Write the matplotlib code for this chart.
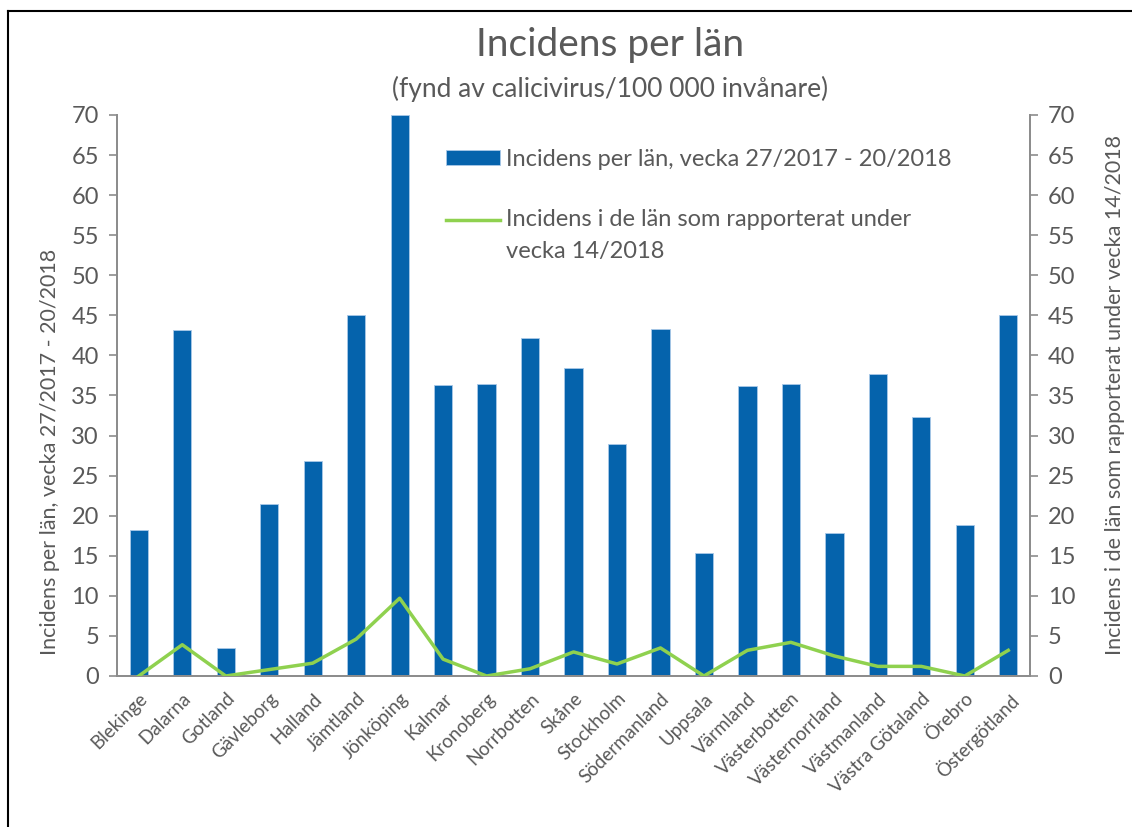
import numpy as np
import matplotlib.pyplot as plt
from matplotlib.lines import Line2D
from matplotlib.legend_handler import HandlerLine2D

plt.rcParams['font.family'] = ['Lato', 'DejaVu Sans']

# Data
lan = ["Blekinge", "Dalarna", "Gotland", "Gävleborg", "Halland", "Jämtland",
       "Jönköping", "Kalmar", "Kronoberg", "Norrbotten", "Skåne", "Stockholm",
       "Södermanland", "Uppsala", "Värmland", "Västerbotten", "Västernorrland",
       "Västmanland", "Västra Götaland", "Örebro", "Östergötland"]
incidens_period = [18.2, 43.2, 3.5, 21.4, 26.8, 45.0, 70.0, 36.3, 36.4, 42.2,
                   38.4, 29.0, 43.3, 15.4, 36.2, 36.4, 17.9, 37.7, 32.3, 18.9, 45.1]
incidens_v14 = [0.0, 3.9, 0.0, 0.8, 1.6, 4.6, 9.7, 2.1, 0.0, 0.9,
                3.0, 1.5, 3.5, 0.0, 3.2, 4.2, 2.5, 1.2, 1.2, 0.0, 3.2]

label_bar = "Incidens per län, vecka 27/2017 - 20/2018"
label_line = "Incidens i de län som rapporterat under\nvecka 14/2018"
ylabel_left = "Incidens per län, vecka 27/2017 - 20/2018"
ylabel_right = "Incidens i de län som rapporterat under vecka 14/2018"

BLUE = '#0563ac'
GREEN = '#8fd14f'
TXT = '#595959'
AX = '#8c8c8c'


class TopLineHandler(HandlerLine2D):
    """line handle lined up with the first row of a two-row label"""
    def create_artists(self, legend, orig_handle, xdescent, ydescent,
                       width, height, fontsize, trans):
        arts = super().create_artists(legend, orig_handle, xdescent, ydescent,
                                      width, height, fontsize, trans)
        for a in arts:
            a.set_ydata(np.asarray(a.get_ydata()) + 0.68 * fontsize)
        return arts


fig = plt.figure(figsize=(11.32, 8.27), dpi=100)
ax = fig.add_axes([0.1034, 0.1826, 0.8065, 0.6784])
ax2 = ax.twinx()

x = np.arange(len(lan))
bars = ax.bar(x, incidens_period, width=0.42, color=BLUE, edgecolor='#a9c8e8',
              linewidth=0.6, label=label_bar, zorder=2)
line, = ax2.plot(x, incidens_v14, color=GREEN, linewidth=2.5, label=label_line,
                 zorder=3)

for a in (ax, ax2):
    a.set_ylim(0, 70)
    a.set_yticks(np.arange(0, 71, 5))
    a.set_xlim(-0.5, len(lan) - 0.5)
    a.spines['top'].set_visible(False)
    for s in ('left', 'right', 'bottom'):
        a.spines[s].set_color(AX)
        a.spines[s].set_linewidth(1.3)
    a.tick_params(axis='y', colors=AX, labelcolor=TXT, labelsize=17,
                  direction='out', length=6, width=1.2, pad=7)

ax.set_xticks(x)
ax.set_xticklabels(lan, rotation=45, ha='right', rotation_mode='anchor',
                   fontsize=13.5, color=TXT)
ax.tick_params(axis='x', length=0, pad=10)

ax.set_ylabel(ylabel_left, fontsize=15.5, color=TXT)
ax.yaxis.set_label_coords(-0.063, 0.40)
ax2.set_ylabel(ylabel_right, fontsize=15.5, color=TXT, labelpad=21)

fig.text(0.539, 0.945, "Incidens per län", ha='center', va='center',
         fontsize=28, color=TXT)
fig.text(0.539, 0.893, "(fynd av calicivirus/100 000 invånare)", ha='center',
         va='center', fontsize=19, color=TXT)

leg = ax.legend(handles=[bars, line], loc='upper left',
                bbox_to_anchor=(0.360, 0.939), frameon=False, fontsize=17,
                labelcolor=TXT, handlelength=2.3, handleheight=0.6,
                handletextpad=0.25, labelspacing=1.65, borderpad=0,
                borderaxespad=0, handler_map={Line2D: TopLineHandler()})
for t in leg.get_texts():
    t.set_linespacing(1.65)

# outer frame (left and top edges visible in the reference)
fig.add_artist(Line2D([0.0075, 0.0075], [0, 0.987], color='black', linewidth=1.5))
fig.add_artist(Line2D([0.0075, 1.0], [0.987, 0.987], color='black', linewidth=1.5))

fig.savefig('out.png', dpi=100)
